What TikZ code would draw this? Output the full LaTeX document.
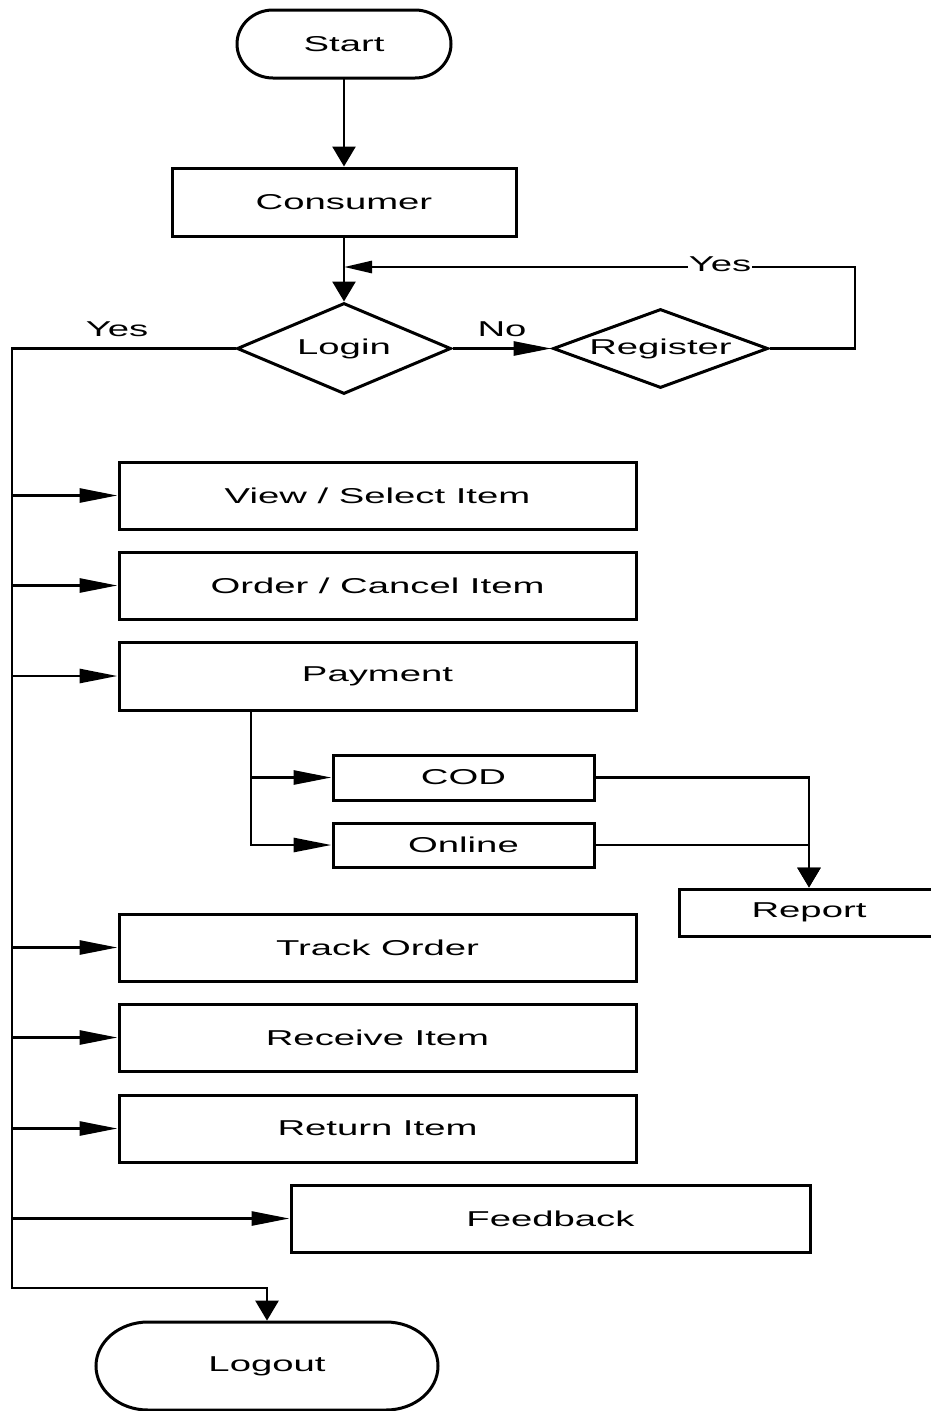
\documentclass[tikz,border=0pt]{standalone}
\usepackage{fontspec}
\setmainfont{Liberation Sans}
\usepackage{graphicx}
\usetikzlibrary{arrows.meta,shapes.geometric}
\newcommand{\wt}[1]{\scalebox{1.78}[1]{#1}}
\begin{document}
\begin{tikzpicture}[x=1pt,y=-1pt,
  line width=2.8pt,
  every node/.style={font=\fontsize{21.5pt}{25pt}\selectfont, inner sep=0pt},
  box/.style={draw, rectangle, line width=3pt},
  dec/.style={draw, diamond, line width=3pt},
  term/.style={rectangle},
  harrow/.style={-{Triangle[length=38pt,width=14pt]}},
  harrowS/.style={-{Triangle[length=28pt,width=12pt]}},
  varrow/.style={-{Triangle[length=20pt,width=23pt]}},
  lbl/.style={inner sep=1pt}
]
\useasboundingbox (0,0) rectangle (931,1411);

% terminals
\node[term, minimum width=214pt, minimum height=68pt] (start) at (344,44) {\wt{Start}};
\draw[line width=3pt] (273,10) -- (415,10) arc[start angle=-90,end angle=90,x radius=36,y radius=34] -- (273,78) arc[start angle=90,end angle=270,x radius=36,y radius=34] -- cycle;

\node[term, minimum width=342pt, minimum height=88pt] (logout) at (267,1366) {\wt{Logout}};
\draw[line width=3pt] (148,1322) -- (386,1322) arc[start angle=-90,end angle=90,x radius=52,y radius=44] -- (148,1410) arc[start angle=90,end angle=270,x radius=52,y radius=44] -- cycle;

% boxes
\node[box, minimum width=344pt, minimum height=68pt] (consumer) at (344,202) {\wt{Consumer}};
\node[dec, aspect=2.35, minimum width=214pt, minimum height=91pt] (login) at (344,348.5) {\wt{Login}};
\node[dec, aspect=2.72, minimum width=215pt, minimum height=79pt] (register) at (660.5,348.5) {\wt{Register}};

\node[box, minimum width=517pt, minimum height=67pt] (view) at (377.5,495.5) {\wt{View / Select Item}};
\node[box, minimum width=517pt, minimum height=67pt] (order) at (377.5,585.5) {\wt{Order / Cancel Item}};
\node[box, minimum width=517pt, minimum height=68pt] (payment) at (377.5,676) {\wt{Payment}};
\node[box, minimum width=261pt, minimum height=45pt] (cod) at (463.5,777.5) {\wt{COD}};
\node[box, minimum width=261pt, minimum height=44pt] (online) at (463.5,845) {\wt{Online}};
\node[box, minimum width=260pt, minimum height=47pt] (report) at (809,912.5) {\wt{Report}};
\node[box, minimum width=517pt, minimum height=67pt] (track) at (377.5,947.5) {\wt{Track Order}};
\node[box, minimum width=517pt, minimum height=67pt] (receive) at (377.5,1037.5) {\wt{Receive Item}};
\node[box, minimum width=517pt, minimum height=67pt] (return) at (377.5,1128.5) {\wt{Return Item}};
\node[box, minimum width=519pt, minimum height=67pt] (feedback) at (550.5,1218.5) {\wt{Feedback}};

% coordinates
\coordinate (merge) at (344,267);
\coordinate (loopR) at (855,267);
\coordinate (trunkTop) at (12,348.5);
\coordinate (trunkBot) at (12,1288);
\coordinate (pb) at (251,710);

% connectors
\draw[varrow] (start) -- (consumer);
\draw[varrow] (consumer) -- (login);
\draw[harrow] (login) -- (register);
\draw[harrowS] (register.east) -| (loopR) -- (merge);
\node[lbl, fill=white] (yes2) at (720,264) {\wt{Yes}};
\node[lbl] (no) at (502,329) {\wt{No}};
\node[lbl] (yes1) at (117,329) {\wt{Yes}};

\draw[varrow] (login.west) -- (trunkTop) -- (trunkBot) -| (logout.north);
\foreach \b in {view,order,payment,track,receive,return,feedback}
  \draw[harrow] (\b.west -| trunkTop) -- (\b.west);

\draw[harrow] (pb) |- (cod.west);
\draw[harrow] (pb) |- (online.west);
\draw[varrow] (cod.east) -| (report.north);
\draw[varrow] (online.east) -| (report.north);
\end{tikzpicture}
\end{document}
